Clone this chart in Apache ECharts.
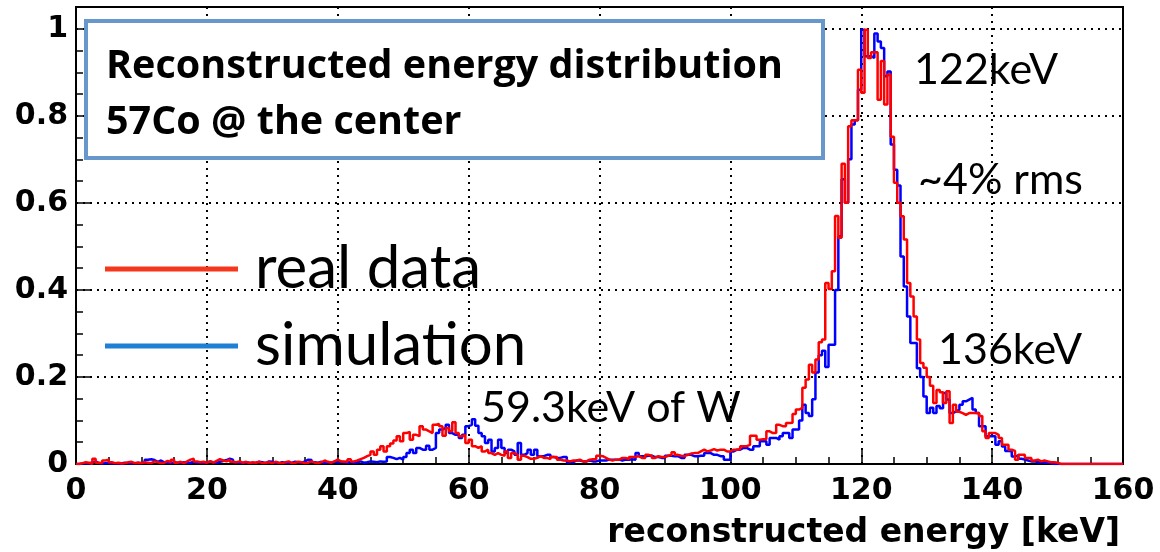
<!DOCTYPE html>
<html><head><meta charset="utf-8">
<script src="https://cdn.jsdelivr.net/npm/echarts@6/dist/echarts.min.js"></script>
<style>html,body{margin:0;padding:0;background:#fff}#c{width:1160px;height:552px}</style>
</head><body><div id="c"></div>
<script>
// histogram binning (keV)
const binStart = 0;
const binWidth = 0.5;
const xRange = [0, 160];
const yRange = [0, 1.05];

// real data, 0.5 keV bins, one row = 10 keV
const realData = [
0,0.002,0.004,0.003,0,0.012,0.003,0.002,0.008,0.01, 0.004,0.002,0.003,0.001,0.002,0.004,0.005,0.002,0.003,0.002,
0.004,0.003,0.002,0.006,0.004,0.002,0.003,0.007,0.004,0.01, 0.003,0.005,0.002,0.006,0.01,0.012,0.006,0.004,0.005,0.003,
0.006,0.003,0.007,0.011,0.008,0.006,0.01,0.005,0.004,0.006, 0.003,0.005,0.002,0.004,0.003,0.005,0.002,0.003,0.004,0.002,
0.005,0.003,0.002,0.004,0.006,0.002,0.003,0.005,0.004,0.002, 0.003,0.006,0.003,0.002,0.004,0.008,0.005,0.003,0.006,0.01,
0.006,0.006,0.005,0.011,0.006,0.008,0.011,0.014,0.018,0.021, 0.029,0.021,0.033,0.041,0.029,0.041,0.047,0.054,0.064,0.052,
0.071,0.074,0.056,0.067,0.064,0.087,0.079,0.075,0.071,0.09, 0.092,0.087,0.065,0.083,0.075,0.096,0.071,0.064,0.067,0.048,
0.056,0.041,0.037,0.041,0.029,0.033,0.025,0.021,0.025,0.021, 0.019,0.029,0.014,0.025,0.021,0.01,0.019,0.016,0.012,0.012,
0.014,0.018,0.014,0.014,0.011,0.016,0.016,0.01,0.008,0.008, 0.006,0.008,0.008,0.01,0.006,0.006,0.01,0.011,0.011,0.019,
0.018,0.014,0.01,0.008,0.01,0.01,0.014,0.014,0.011,0.016, 0.016,0.018,0.014,0.014,0.021,0.019,0.014,0.018,0.016,0.016,
0.019,0.021,0.027,0.021,0.019,0.018,0.021,0.024,0.025,0.025, 0.029,0.033,0.029,0.031,0.034,0.031,0.033,0.033,0.029,0.029,
0.033,0.033,0.034,0.041,0.041,0.044,0.065,0.065,0.056,0.057, 0.057,0.075,0.071,0.071,0.09,0.087,0.087,0.094,0.095,0.115,
0.125,0.129,0.175,0.194,0.228,0.21,0.24,0.28,0.286,0.416, 0.402,0.443,0.57,0.52,0.69,0.6,0.776,0.79,0.79,0.906,
0.853,0.998,0.933,0.946,0.946,0.837,0.926,0.826,0.895,0.752, 0.646,0.6,0.569,0.516,0.416,0.385,0.339,0.286,0.232,0.221,
0.2,0.18,0.14,0.17,0.165,0.14,0.167,0.094,0.136,0.12, 0.117,0.113,0.117,0.117,0.117,0.117,0.11,0.075,0.06,0.071,
0.071,0.067,0.06,0.044,0.044,0.033,0.03,0.01,0.021,0.021, 0.014,0.014,0.008,0.01,0.006,0.008,0.006,0.004,0.004,0.003,
0,0,0,0,0,0,0,0,0,0, 0,0,0,0,0,0,0,0,0,0
];

// simulation, same binning
const simData = [
0,0.001,0.002,0.001,0.004,0.006,0.002,0.001,0.002,0.003, 0.001,0.002,0.001,0.002,0.003,0.002,0.001,0.002,0.003,0.002,
0.004,0.01,0.011,0.009,0.005,0.008,0.004,0.003,0.002,0.004, 0.003,0.002,0.004,0.002,0.003,0.005,0.003,0.004,0.002,0.003,
0.006,0.004,0.003,0.005,0.007,0.009,0.012,0.01,0.004,0.003, 0.002,0.004,0.003,0.002,0.003,0.005,0.004,0.002,0.006,0.005,
0.003,0.002,0.004,0.003,0.002,0.003,0.005,0.004,0.003,0.006, 0.01,0.009,0.004,0.003,0.005,0.002,0.004,0.003,0.005,0.004,
0.005,0.004,0.003,0.005,0.003,0.004,0.006,0.003,0.004,0.006, 0.005,0.004,0.006,0.005,0.006,0.016,0.014,0.011,0.014,0.01,
0.016,0.025,0.033,0.025,0.037,0.033,0.033,0.042,0.033,0.037, 0.071,0.079,0.083,0.09,0.071,0.067,0.067,0.06,0.067,0.087,
0.09,0.103,0.088,0.071,0.064,0.048,0.056,0.029,0.037,0.056, 0.037,0.025,0.033,0.029,0.021,0.048,0.021,0.025,0.033,0.021,
0.033,0.018,0.018,0.021,0.021,0.016,0.014,0.014,0.016,0.016, 0.004,0.004,0.008,0.008,0.006,0.006,0.008,0.006,0.006,0.008,
0.008,0.008,0.01,0.01,0.01,0.01,0.008,0.01,0.01,0.011, 0.01,0.025,0.018,0.018,0.019,0.019,0.016,0.016,0.014,0.014,
0.019,0.019,0.018,0.018,0.014,0.014,0.021,0.021,0.018,0.018, 0.019,0.019,0.025,0.025,0.021,0.021,0.018,0.018,0.01,0.01,
0.029,0.033,0.033,0.037,0.037,0.033,0.033,0.041,0.041,0.052, 0.052,0.044,0.06,0.06,0.056,0.064,0.071,0.071,0.06,0.079,
0.079,0.1,0.136,0.117,0.11,0.149,0.21,0.25,0.26,0.223, 0.274,0.274,0.4,0.523,0.654,0.6,0.7,0.78,0.79,0.86,
0.998,0.937,0.937,0.933,0.989,0.971,0.956,0.891,0.902,0.734, 0.676,0.64,0.477,0.408,0.339,0.278,0.278,0.22,0.2,0.155,
0.117,0.129,0.117,0.133,0.128,0.163,0.148,0.117,0.121,0.125, 0.136,0.144,0.148,0.152,0.125,0.117,0.087,0.087,0.064,0.064,
0.064,0.044,0.052,0.04,0.03,0.029,0.017,0.02,0.012,0.01, 0.008,0.006,0.006,0.004,0.004,0.003,0.003,0.002,0,0,
0,0,0,0,0,0,0,0,0,0, 0,0,0,0,0,0,0,0,0,0
];

const seriesNames = ['real data', 'simulation'];
const boxLines = ['Reconstructed energy distribution', '57Co @ the center'];
const notes = ['122keV', '~4% rms', '136keV', '59.3keV of W'];
const xTitle = 'reconstructed energy [keV]';

function toSteps(vals) {
  const pts = vals.map((v, i) => [binStart + i * binWidth, v]);
  pts.push([binStart + vals.length * binWidth, vals[vals.length - 1]]);
  return pts;
}

const chart = echarts.init(document.getElementById('c'), null, {renderer: 'canvas'});
const axisFont = 'DejaVu Sans';
const dotted = {color: '#000', width: 2, type: [2, 5]};
const noteFont = '43px Lato';
const boxFont = 'bold 39.5px "Open Sans"';

chart.setOption({
  animation: false,
  backgroundColor: '#fff',
  grid: {left: 76, right: 37, top: 7, bottom: 88, show: true, borderColor: '#000', borderWidth: 2, backgroundColor: 'transparent'},
  legend: {
    orient: 'vertical', left: 105, top: 236, padding: 0,
    itemWidth: 133, itemHeight: 5, itemGap: 11, itemTextGap: 5,
    icon: 'rect',
    textStyle: {fontFamily: 'Lato', fontSize: 60, color: '#000', padding: [0, 0, 0, 12], lineHeight: 66},
    data: [
      {name: seriesNames[0], itemStyle: {color: '#f5381d'}},
      {name: seriesNames[1], itemStyle: {color: '#1f7fd4'}}
    ]
  },
  xAxis: {
    type: 'value', min: xRange[0], max: xRange[1], interval: 20,
    name: xTitle, nameLocation: 'end', nameGap: -3,
    nameTextStyle: {fontFamily: axisFont, fontWeight: 'bold', fontSize: 33, color: '#000', align: 'right', verticalAlign: 'top', padding: [53, 0, 0, 0]},
    axisLine: {show: true, onZero: false, lineStyle: {color: '#000', width: 2}},
    axisTick: {show: true, inside: true, length: 15, lineStyle: {color: '#000', width: 1.5}},
    minorTick: {show: true, splitNumber: 4, length: 7, lineStyle: {color: '#000', width: 1.5}},
    axisLabel: {fontFamily: axisFont, fontWeight: 'bold', fontSize: 30, color: '#000', margin: 12},
    splitLine: {show: true, lineStyle: dotted}
  },
  yAxis: {
    type: 'value', min: yRange[0], max: yRange[1], interval: 0.2,
    axisLine: {show: true, onZero: false, lineStyle: {color: '#000', width: 2}},
    axisTick: {show: true, inside: true, length: 15, lineStyle: {color: '#000', width: 1.5}},
    minorTick: {show: true, splitNumber: 4, length: 7, lineStyle: {color: '#000', width: 1.5}},
    axisLabel: {fontFamily: axisFont, fontWeight: 'bold', fontSize: 30, color: '#000', margin: 8, showMaxLabel: false,
      formatter: v => (Math.abs(v * 5 - Math.round(v * 5)) < 1e-6 ? String(+v.toFixed(1)) : '')},
    splitLine: {show: true, lineStyle: dotted}
  },
  series: [
    {name: seriesNames[1], type: 'line', step: 'end', symbol: 'none', data: toSteps(simData),
     lineStyle: {color: '#0000ff', width: 2.5}, itemStyle: {color: '#0000ff'}, z: 3},
    {name: seriesNames[0], type: 'line', step: 'end', symbol: 'none', data: toSteps(realData),
     lineStyle: {color: '#ff0000', width: 2.5}, itemStyle: {color: '#ff0000'}, z: 4}
  ],
  graphic: [
    {type: 'rect', z: 10, shape: {x: 86, y: 21, width: 737, height: 137},
     style: {fill: '#fff', stroke: '#6897cb', lineWidth: 4}},
    {type: 'text', z: 11, x: 106, y: 67, style: {text: boxLines[0], font: boxFont, fill: '#000', verticalAlign: 'middle'}},
    {type: 'text', z: 11, x: 106, y: 123, style: {text: boxLines[1], font: boxFont, fill: '#000', verticalAlign: 'middle'}},
    {type: 'text', z: 11, x: 914, y: 70, style: {text: notes[0], font: noteFont, fill: '#000', verticalAlign: 'middle'}},
    {type: 'text', z: 11, x: 918, y: 180, style: {text: notes[1], font: noteFont, fill: '#000', verticalAlign: 'middle'}},
    {type: 'text', z: 11, x: 938, y: 350, style: {text: notes[2], font: noteFont, fill: '#000', verticalAlign: 'middle'}},
    {type: 'text', z: 11, x: 481, y: 408, style: {text: notes[3], font: noteFont, fill: '#000', verticalAlign: 'middle'}}
  ]
});
</script>
</body></html>
